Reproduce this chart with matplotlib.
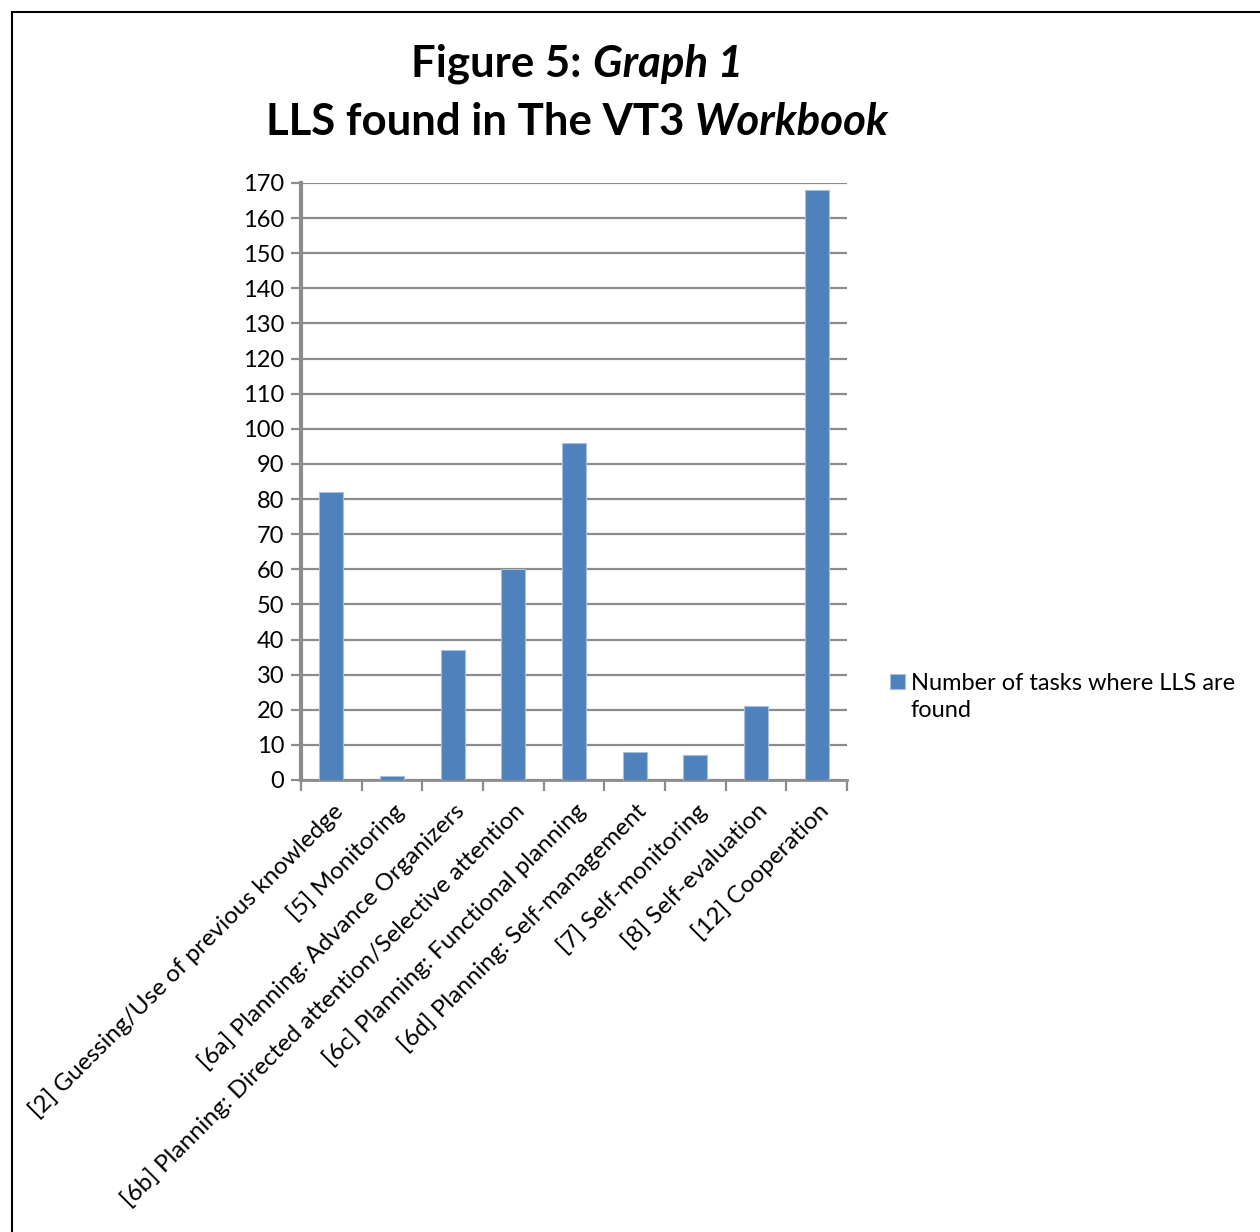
import matplotlib.pyplot as plt
from matplotlib.patches import Rectangle

categories = ["[2] Guessing/Use of previous knowledge",
              "[5] Monitoring",
              "[6a] Planning: Advance Organizers",
              "[6b] Planning: Directed attention/Selective attention",
              "[6c] Planning: Functional planning",
              "[6d] Planning: Self-management",
              "[7] Self-monitoring",
              "[8] Self-evaluation",
              "[12] Cooperation"]
counts = [82, 1, 37, 60, 96, 8, 7, 21, 168]
series_name = "Number of tasks where LLS are\nfound"
yticks = list(range(0, 171, 10))

plt.rcParams['font.family'] = ['Lato', 'DejaVu Sans']

fig = plt.figure(figsize=(12.6, 12.32), dpi=100)
ax = fig.add_axes([0.2389, 0.3669, 0.4333, 0.4846])

blue = "#4F81BD"
grey = "#8C8C8C"

x = list(range(len(categories)))
bars = ax.bar(x, counts, width=0.4, color=blue, edgecolor="#A7BFDE",
              linewidth=0.8, zorder=3, label=series_name)

ax.set_xlim(-0.5, len(categories) - 0.5)
ax.set_ylim(0, 170)
ax.set_yticks(yticks)
ax.set_yticklabels([str(v) for v in yticks], fontsize=17)
ax.yaxis.grid(True, color=grey, linewidth=1.6, zorder=0)

# category ticks sit between the bars, labels under each bar
ax.set_xticks([i - 0.5 for i in range(len(categories) + 1)])
ax.set_xticklabels([])
ax.set_xticks(x, minor=True)
ax.set_xticklabels(categories, minor=True, rotation=45, ha="right",
                   rotation_mode="anchor", fontsize=17.5)
ax.tick_params(axis="x", which="minor", length=0, pad=14)
ax.tick_params(axis="x", which="major", length=8, width=1.6, color=grey)
ax.tick_params(axis="y", length=7, width=1.6, color=grey, pad=5)

for side in ["top", "right"]:
    ax.spines[side].set_visible(False)
ax.spines["left"].set_color(grey)
ax.spines["left"].set_linewidth(3)
ax.spines["bottom"].set_color(grey)
ax.spines["bottom"].set_linewidth(2)

leg = fig.legend(handles=[bars], labels=[series_name], loc="center left",
                 bbox_to_anchor=(0.6985, 0.434), frameon=False, fontsize=17,
                 handlelength=0.65, handleheight=0.65, handletextpad=0.25,
                 borderaxespad=0)
for t in leg.get_texts():
    t.set_linespacing(1.35)
# put the legend square next to the first line of the label
h = leg.legend_handles[0]
h.set_y(h.get_y() + 11.5)

# title with mixed bold / bold-italic parts
fig.canvas.draw()
renderer = fig.canvas.get_renderer()

def title_line(parts, y):
    texts = []
    for s, style in parts:
        t = fig.text(0, y, s, fontsize=31.5, fontweight="bold", style=style,
                     va="baseline", ha="left")
        texts.append(t)
    widths = [t.get_window_extent(renderer).width / fig.bbox.width for t in texts]
    x0 = 0.458 - sum(widths) / 2
    for t, w in zip(texts, widths):
        t.set_x(x0)
        x0 += w

title_line([("Figure 5: ", "normal"), ("Graph 1", "italic")], 0.9375)
title_line([("LLS found in The VT3 ", "normal"), ("Workbook", "italic")], 0.8905)

# outer frame of the chart area
fig.patches.append(Rectangle((0.0095, -0.1), 1.1, 1.1 - 0.0097,
                             transform=fig.transFigure, fill=False,
                             edgecolor="black", linewidth=1.5))

fig.savefig("out.png", dpi=100)
